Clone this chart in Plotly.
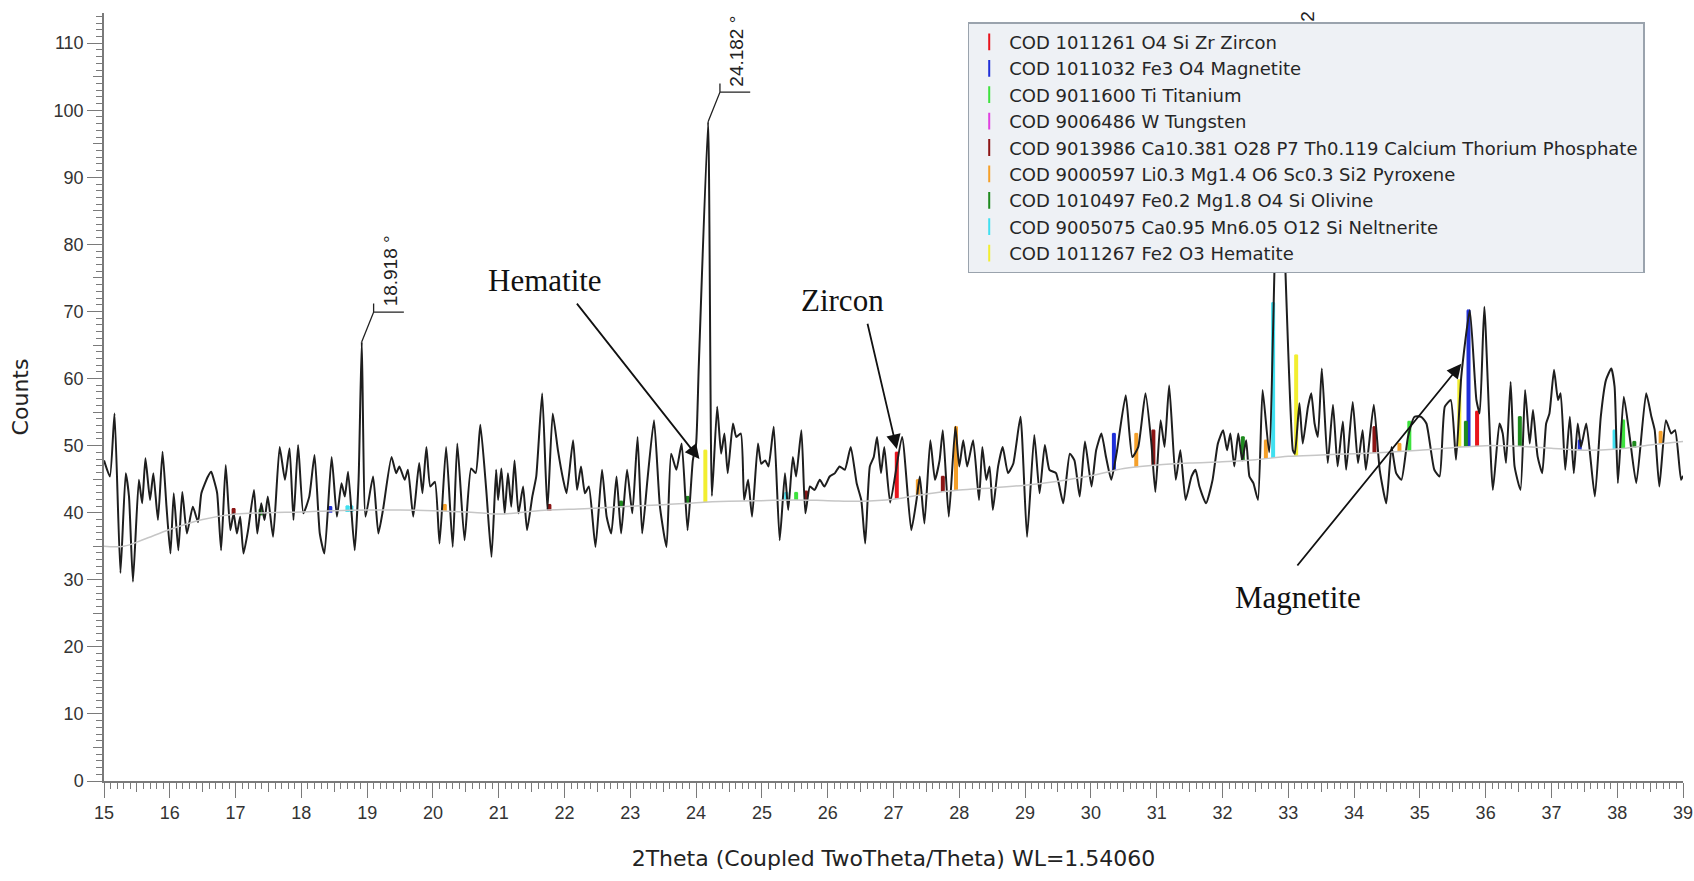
import numpy as np
import plotly.graph_objects as go

# ---------------- measured pattern (2Theta, Counts) ----------------
two_theta = [
    15.00, 15.09, 15.16, 15.25, 15.33, 15.38, 15.44, 15.53, 15.58, 15.63, 15.70, 15.75, 15.82, 15.89, 15.95,
    16.01, 16.06, 16.13, 16.19, 16.26, 16.35, 16.43, 16.48, 16.58, 16.63, 16.67, 16.72, 16.78, 16.85, 16.92,
    16.97, 17.02, 17.07, 17.12, 17.19, 17.28, 17.33, 17.39, 17.44, 17.49, 17.57, 17.67, 17.75, 17.82, 17.88,
    17.95, 18.03, 18.12, 18.20, 18.28, 18.35, 18.46, 18.54, 18.61, 18.66, 18.71, 18.81, 18.87, 18.918, 18.975,
    19.09, 19.17, 19.24, 19.37, 19.44, 19.49, 19.57, 19.62, 19.70, 19.79, 19.84, 19.90, 19.96, 20.03, 20.10,
    20.20, 20.30, 20.37, 20.48, 20.58, 20.65, 20.72, 20.81, 20.89, 20.96, 20.99, 21.04, 21.09, 21.14, 21.19,
    21.24, 21.30, 21.37, 21.43, 21.51, 21.57, 21.66, 21.74, 21.82, 21.90, 21.98, 22.03, 22.13, 22.19, 22.25,
    22.31, 22.37, 22.47, 22.57, 22.64, 22.71, 22.79, 22.86, 22.95, 23.03, 23.11, 23.18, 23.26, 23.36, 23.45,
    23.55, 23.62, 23.70, 23.78, 23.87, 23.95, 24.00, 24.04, 24.182, 24.24, 24.32, 24.38, 24.43, 24.48, 24.56,
    24.61, 24.68, 24.73, 24.79, 24.85, 24.94, 24.99, 25.05, 25.10, 25.18, 25.27, 25.35, 25.40, 25.47, 25.52,
    25.60, 25.66, 25.73, 25.80, 25.88, 25.95, 26.03, 26.11, 26.18, 26.26, 26.35, 26.44, 26.51, 26.57, 26.64,
    26.70, 26.75, 26.81, 26.86, 26.95, 27.13, 27.27, 27.35, 27.40, 27.47, 27.56, 27.63, 27.70, 27.75, 27.84,
    27.94, 28.00, 28.06, 28.12, 28.21, 28.30, 28.35, 28.41, 28.46, 28.51, 28.59, 28.66, 28.74, 28.82, 28.93,
    29.03, 29.14, 29.22, 29.30, 29.37, 29.47, 29.58, 29.68, 29.75, 29.83, 29.91, 30.01, 30.08, 30.16, 30.23,
    30.31, 30.39, 30.53, 30.63, 30.72, 30.83, 30.92, 30.98, 31.06, 31.12, 31.19, 31.29, 31.36, 31.44, 31.53,
    31.59, 31.65, 31.75, 31.85, 31.93, 32.01, 32.07, 32.12, 32.18, 32.24, 32.30, 32.36, 32.41, 32.47, 32.54,
    32.61, 32.71, 32.86, 33.07, 33.10, 33.17, 33.22, 33.30, 33.35, 33.40, 33.45, 33.51, 33.60, 33.68, 33.75,
    33.83, 33.88, 33.98, 34.06, 34.13, 34.18, 34.30, 34.39, 34.49, 34.57, 34.64, 34.72, 34.82, 34.92, 35.02,
    35.10, 35.22, 35.30, 35.38, 35.47, 35.55, 35.63, 35.76, 35.86, 35.91, 35.98, 36.11, 36.21, 36.26, 36.31,
    36.38, 36.44, 36.53, 36.60, 36.67, 36.72, 36.79, 36.86, 36.92, 36.97, 37.04, 37.10, 37.14, 37.21, 37.28,
    37.34, 37.40, 37.45, 37.53, 37.66, 37.75, 37.83, 37.91, 37.96, 38.01, 38.10, 38.19, 38.29, 38.44, 38.52,
    38.57, 38.64, 38.74, 38.82, 38.88, 38.97, 39.00,
]
counts = [
    47.8, 45.4, 54.8, 31.0, 45.9, 42.4, 29.7, 44.9, 41.4, 48.1, 41.9, 45.9, 38.9, 49.1, 40.9,
    33.9, 42.9, 34.4, 43.1, 36.9, 40.9, 38.6, 42.9, 45.4, 46.1, 44.9, 42.9, 34.4, 47.1, 37.4,
    39.9, 36.9, 39.4, 33.9, 37.4, 43.4, 36.9, 41.4, 38.9, 42.4, 36.4, 49.8, 44.9, 49.6, 38.9,
    50.1, 39.9, 42.4, 48.6, 36.9, 33.9, 48.3, 39.4, 44.4, 42.4, 46.1, 34.4, 45.0, 65.5, 39.4,
    45.4, 36.9, 40.4, 48.3, 45.9, 46.9, 44.9, 46.4, 39.4, 47.4, 42.9, 49.8, 43.9, 44.6, 35.4,
    49.8, 34.9, 50.3, 35.9, 46.6, 45.9, 53.1, 43.4, 33.4, 46.4, 41.9, 46.6, 39.9, 45.9, 40.9,
    47.8, 39.9, 43.9, 37.4, 42.4, 45.4, 57.8, 40.4, 54.8, 49.3, 44.9, 42.9, 50.8, 43.4, 46.9,
    42.9, 43.9, 34.9, 46.4, 39.4, 36.9, 45.4, 36.9, 46.4, 39.9, 51.3, 36.9, 44.9, 53.8, 40.9,
    34.9, 48.8, 46.4, 50.3, 37.4, 47.8, 50.3, 61.8, 98.3, 42.5, 55.8, 48.8, 51.8, 45.9, 53.3,
    51.3, 51.8, 41.9, 44.9, 39.4, 50.3, 47.3, 47.8, 46.9, 52.8, 35.9, 45.9, 40.4, 48.3, 45.4,
    52.3, 39.9, 43.9, 43.4, 44.9, 43.9, 45.4, 45.9, 46.9, 46.4, 49.8, 44.4, 41.9, 35.4, 46.9,
    48.3, 51.3, 45.9, 49.8, 41.5, 51.3, 37.4, 41.9, 45.4, 38.4, 50.8, 44.9, 47.8, 52.3, 39.4,
    52.8, 46.9, 50.8, 46.9, 50.8, 41.9, 49.8, 44.9, 46.9, 40.4, 46.9, 49.8, 45.9, 47.3, 54.3,
    36.4, 51.6, 42.9, 50.1, 46.4, 45.9, 41.4, 48.8, 47.8, 42.4, 50.6, 43.9, 49.3, 51.8, 48.3,
    44.9, 48.8, 57.5, 48.3, 49.8, 57.8, 50.3, 43.1, 53.8, 49.8, 59.0, 44.9, 49.3, 41.9, 45.4,
    46.4, 43.9, 41.4, 44.9, 50.3, 52.3, 49.3, 51.8, 46.9, 51.8, 47.8, 50.8, 45.4, 44.4, 41.9,
    58.3, 49.0, 100.5, 49.3, 48.8, 56.3, 50.3, 55.8, 57.8, 53.3, 51.3, 61.5, 47.4, 56.1, 46.9,
    53.6, 46.4, 56.5, 47.4, 52.3, 46.4, 56.1, 46.4, 41.4, 49.8, 45.9, 44.9, 51.3, 54.3, 54.3,
    53.3, 46.4, 45.4, 55.8, 56.8, 47.9, 60.3, 70.2, 56.8, 54.8, 70.7, 43.4, 53.3, 51.8, 47.4,
    59.5, 46.9, 43.4, 58.3, 50.3, 55.3, 48.4, 45.9, 53.3, 54.8, 61.3, 56.8, 57.8, 46.4, 54.3,
    45.9, 53.3, 49.8, 53.3, 42.4, 54.3, 59.8, 61.5, 58.8, 44.4, 57.3, 51.3, 44.4, 57.8, 54.3,
    52.3, 43.9, 53.8, 51.8, 52.3, 44.9, 45.5,
]

# ---------------- background curve ----------------
bg_theta = [15.0, 15.3, 15.6, 16.0, 16.5, 17.0, 17.5, 18.0, 18.5, 19.0, 19.5, 20.0, 20.5, 20.8, 21.0,
            21.3, 21.75, 22.3, 22.86, 23.5, 24.0, 24.5, 25.0, 25.5, 26.0, 26.5, 27.0, 27.5, 28.0, 28.5,
            29.0, 29.5, 30.0, 30.5, 31.0, 31.5, 32.0, 32.5, 33.0, 33.5, 34.0, 34.5, 35.0, 35.5, 36.0,
            36.5, 37.0, 37.5, 38.0, 38.5, 39.0]
bg_counts = [35.0, 35.0, 36.0, 37.5, 39.0, 39.8, 40.0, 40.1, 40.3, 40.4, 40.4, 40.3, 40.1, 39.9, 39.8,
             40.0, 40.4, 40.6, 40.9, 41.2, 41.5, 41.7, 41.8, 41.9, 41.8, 41.7, 42.0, 42.8, 43.4, 43.7,
             44.1, 44.7, 45.5, 46.6, 47.1, 47.4, 47.6, 47.9, 48.4, 48.6, 48.8, 49.0, 49.3, 49.7, 50.0,
             49.9, 49.6, 49.3, 49.5, 50.1, 50.6]

# ---------------- phase identification sticks ----------------
phase_names = [
    "COD 1011261 O4 Si Zr Zircon",
    "COD 1011032 Fe3 O4 Magnetite",
    "COD 9011600 Ti Titanium",
    "COD 9006486 W Tungsten",
    "COD 9013986 Ca10.381 O28 P7 Th0.119 Calcium Thorium Phosphate",
    "COD 9000597 Li0.3 Mg1.4 O6 Sc0.3 Si2 Pyroxene",
    "COD 1010497 Fe0.2 Mg1.8 O4 Si Olivine",
    "COD 9005075 Ca0.95 Mn6.05 O12 Si Neltnerite",
    "COD 1011267 Fe2 O3 Hematite",
]
phase_colors = ["#e8141c", "#1f2fd8", "#3ee23e", "#e040e0", "#8c1515",
                "#f5a02a", "#1e8a1e", "#40e0f0", "#f2ee30"]
phase_pos = [
    [27.05, 35.87],
    [18.44, 30.35, 35.74, 37.43],
    [25.52, 34.84, 38.09],
    [None],
    [16.97, 21.77, 25.67, 27.75, 30.95, 34.31],
    [20.18, 27.37, 27.95, 30.69, 32.66, 34.69, 38.66],
    [17.38, 22.86, 23.87, 32.31, 35.70, 36.52, 38.26],
    [18.70, 18.76, 25.37, 32.77, 37.96],
    [24.14, 33.12, 35.60],
]
phase_top = [
    [49.0, 55.1],
    [40.9, 51.8, 70.2, 50.8],
    [43.0, 53.6, 53.8],
    [None],
    [40.6, 41.2, 43.2, 45.4, 52.3, 52.8],
    [41.2, 44.9, 52.8, 51.8, 50.8, 50.3, 52.1],
    [40.5, 41.7, 42.4, 51.3, 53.6, 54.3, 50.6],
    [41.0, 41.0, 43.0, 71.3, 52.3],
    [49.3, 63.5, 59.8],
]

# ---------------- labelled peaks ----------------
peak_theta = [18.918, 24.182, 32.86]
peak_counts = [65.5, 98.3, 100.5]
peak_labels = ["18.918 °", "24.182 °", "2"]   # third label is hidden by the legend except its last digit

# ---------------- mineral call-outs ----------------
mineral_names = ["Hematite", "Zircon", "Magnetite"]
mineral_text_xy = [(21.71, 74.6), (26.23, 71.7), (33.15, 27.4)]
mineral_tail_xy = [(22.17, 71.4), (26.60, 68.4), (33.12, 31.9)]
mineral_head_xy = [(24.05, 48.0), (27.05, 49.5), (35.63, 62.2)]

SANS = "Liberation Sans, Arial, sans-serif"
WIDE = "DejaVu Sans, Verdana, sans-serif"
AX = "#7a7a7a"

fig = go.Figure()

# background (on overlay axes that also carry the 0.5 / 5 medium ticks)
fig.add_trace(go.Scatter(x=bg_theta, y=bg_counts, mode="lines", xaxis="x2", yaxis="y2",
                         line=dict(color="#c6c6c6", width=1.5, shape="spline"),
                         showlegend=False, hoverinfo="skip"))

bg_x = np.array(bg_theta)
bg_y = np.array(bg_counts)
for name, col, pos, top in zip(phase_names, phase_colors, phase_pos, phase_top):
    if pos[0] is None:
        fig.add_trace(go.Scatter(x=pos, y=top, mode="markers", name=name,
                                 marker=dict(symbol="line-ns-open", size=1, color=col,
                                             line=dict(color=col, width=3)), hoverinfo="skip"))
        continue
    pos = np.array(pos, dtype=float)
    top = np.array(top, dtype=float)
    base = np.interp(pos, bg_x, bg_y)
    fig.add_trace(go.Scatter(
        x=pos, y=top, mode="markers", name=name,
        marker=dict(symbol="line-ns-open", size=1, color=col, line=dict(color=col, width=3)),
        error_y=dict(type="data", symmetric=False, array=np.zeros(len(pos)),
                     arrayminus=np.clip(top - base, 0.9, None), color=col, thickness=4, width=0),
        hoverinfo="skip"))

fig.add_trace(go.Scatter(x=two_theta, y=counts, mode="lines",
                         line=dict(color="#1e1e1e", width=2, shape="spline", smoothing=0.5),
                         showlegend=False, hoverinfo="skip"))

# peak leaders + labels
DX, DY, L, TICK = 0.18, 4.4, 0.46, 1.3
for p, h in zip(peak_theta, peak_counts):
    kx, ky = p + DX, h + DY
    fig.add_trace(go.Scatter(x=[p, kx, kx, kx, kx + L], y=[h, ky, ky + TICK, ky, ky],
                             mode="lines", line=dict(color="#222", width=1.3),
                             showlegend=False, hoverinfo="skip"))

annotations = []
for i, (p, h, lab) in enumerate(zip(peak_theta, peak_counts, peak_labels)):
    if i < 2:
        annotations.append(dict(x=p + DX + 0.25, y=h + DY + 0.5, xref="x", yref="y", text=lab,
                                textangle=-90, showarrow=False, xanchor="center", yanchor="bottom",
                                font=dict(family=SANS, size=19, color="#222")))
    else:
        annotations.append(dict(x=p + DX + 0.26, y=114.1, xref="x", yref="y", text=lab,
                                textangle=-90, showarrow=False, xanchor="center", yanchor="middle",
                                font=dict(family=SANS, size=19, color="#222")))

for nm, (tx, ty), (ax_, ay_), (hx, hy) in zip(mineral_names, mineral_text_xy, mineral_tail_xy, mineral_head_xy):
    annotations.append(dict(x=tx, y=ty, xref="x", yref="y", text=nm, showarrow=False,
                            font=dict(family="Liberation Serif, Times New Roman, serif", size=31, color="#111")))
    annotations.append(dict(x=hx, y=hy, ax=ax_, ay=ay_, xref="x", yref="y", axref="x", ayref="y",
                            text="", showarrow=True, arrowhead=2, arrowsize=1.6, arrowwidth=1.8,
                            arrowcolor="#111", standoff=0))

fig.update_layout(
    width=1694, height=881,
    margin=dict(l=104, r=11, t=13, b=100),
    paper_bgcolor="white", plot_bgcolor="white",
    font=dict(family=SANS, color="#333"),
    showlegend=True,
    legend=dict(x=0.547, y=0.988, xanchor="left", yanchor="top",
                bgcolor="#eef1f5", bordercolor="#9aa3ad", borderwidth=1.5,
                font=dict(family=WIDE, size=18, color="#262626"),
                itemsizing="constant", tracegroupgap=0),
    annotations=annotations,
    xaxis=dict(range=[15, 39], tick0=0, dtick=1, ticks="outside", ticklen=15, tickwidth=1.2,
               tickcolor=AX, showline=True, linecolor=AX, linewidth=1.5, showgrid=False,
               zeroline=False, tickfont=dict(size=18, color="#333"),
               minor=dict(dtick=0.1, ticklen=6, tickwidth=1, tickcolor=AX, ticks="outside", showgrid=False),
               title=dict(text="2Theta (Coupled TwoTheta/Theta) WL=1.54060", standoff=28,
                          font=dict(family=WIDE, size=22, color="#222")),
               automargin=False),
    xaxis2=dict(matches="x", overlaying="x", anchor="y", side="bottom", tick0=0.5, dtick=1,
                ticks="outside", ticklen=10, tickwidth=1, tickcolor=AX, showticklabels=False,
                showline=False, showgrid=False, zeroline=False),
    yaxis=dict(range=[0, 114.5], tick0=0, dtick=10, ticks="outside", ticklen=15, tickwidth=1.2,
               tickcolor=AX, showline=True, linecolor=AX, linewidth=1.5, showgrid=False,
               zeroline=False, tickfont=dict(size=18, color="#333"),
               minor=dict(dtick=1, ticklen=6, tickwidth=1, tickcolor=AX, ticks="outside", showgrid=False),
               title=dict(text="Counts", standoff=19, font=dict(family=WIDE, size=22, color="#222")),
               automargin=False),
    yaxis2=dict(matches="y", overlaying="y", anchor="x", side="left", tick0=5, dtick=10,
                ticks="outside", ticklen=10, tickwidth=1, tickcolor=AX, showticklabels=False,
                showline=False, showgrid=False, zeroline=False),
)

fig.write_html("out.html")
